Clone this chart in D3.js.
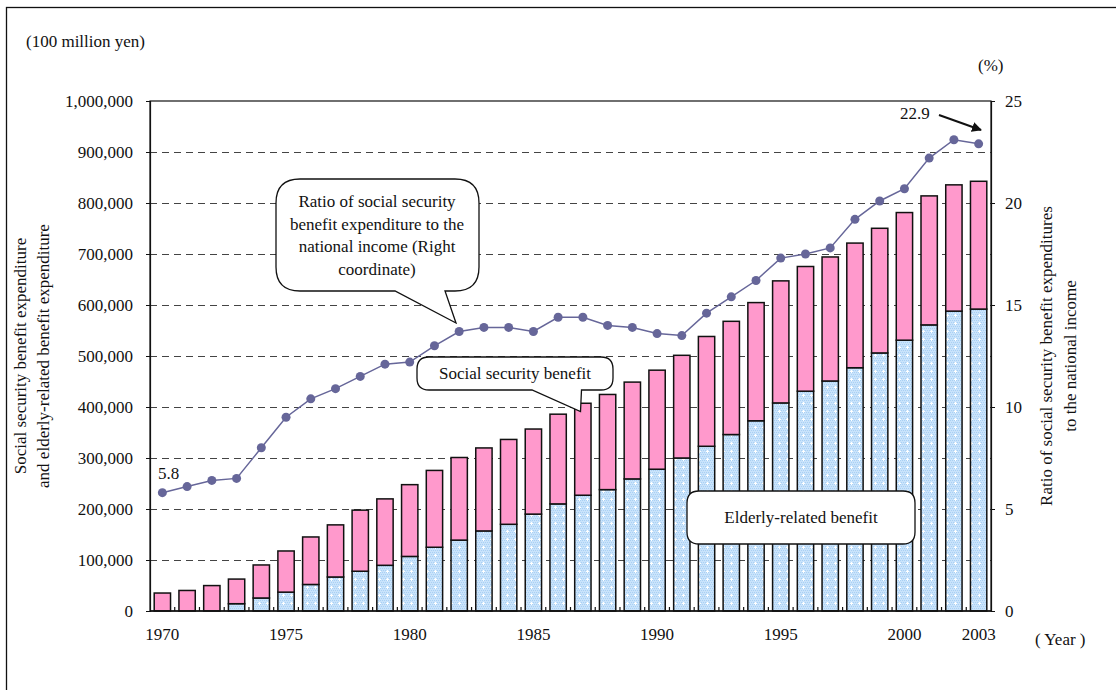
<!DOCTYPE html>
<html><head><meta charset="utf-8">
<script src="https://cdn.jsdelivr.net/npm/d3@7"></script>
<style>
html,body{margin:0;padding:0;background:#fff;}
svg text{font-family:"Liberation Serif","Times New Roman",serif;font-size:17px;fill:#111;}
</style></head>
<body>
<svg id="chart" width="1116" height="690"></svg>
<script>
// ---- data ----
const years = [1970,1971,1972,1973,1974,1975,1976,1977,1978,1979,1980,1981,1982,1983,1984,1985,1986,1987,1988,1989,1990,1991,1992,1993,1994,1995,1996,1997,1998,1999,2000,2001,2002,2003];
const totalBenefit = [35239,40258,49845,62587,90270,117693,145165,168868,197763,219832,247736,275638,300973,319733,336396,356798,385918,407337,424582,448822,472203,501346,538280,568000,604727,647314,675475,694187,721411,750417,781272,813928,835584,842582];
const elderlyBenefit = [0,0,0,14300,25500,37000,52000,66700,78000,89600,107000,125000,139000,157000,170000,190000,210000,227000,238000,259000,278000,300000,323000,346000,373000,408000,431000,451000,477000,506000,531000,561000,588000,592000];
const ratioNI = [5.8,6.1,6.4,6.5,8.0,9.5,10.4,10.9,11.5,12.1,12.2,13.0,13.7,13.9,13.9,13.7,14.4,14.4,14.0,13.9,13.6,13.5,14.6,15.4,16.2,17.3,17.5,17.8,19.2,20.1,20.7,22.2,23.1,22.9];
const leftTicks = [0,100000,200000,300000,400000,500000,600000,700000,800000,900000,1000000];
const rightTicks = [0,5,10,15,20,25];
const xLabelYears = [1970,1975,1980,1985,1990,1995,2000,2003];

const svg = d3.select("#chart");
const M = {left:150, top:101, right:991, bottom:611};

// outer frame
svg.append("rect").attr("x",6.5).attr("y",7.5).attr("width",1300).attr("height",900)
  .attr("fill","none").attr("stroke","#111").attr("stroke-width",1.3);

// pattern for elderly
const defs = svg.append("defs");
const pat = defs.append("pattern").attr("id","dots").attr("patternUnits","userSpaceOnUse")
  .attr("width",8).attr("height",8);
pat.append("rect").attr("width",8).attr("height",8).attr("fill","#c9e3fb");
for (let i=0;i<8;i+=2) for (let j=0;j<8;j+=2) {
  pat.append("rect").attr("x",i+((j/2)%2)).attr("y",j).attr("width",1).attr("height",1).attr("fill","#a9d0f4");
}
pat.append("rect").attr("x",3).attr("y",2).attr("width",1).attr("height",3).attr("fill","#fff");
pat.append("rect").attr("x",2).attr("y",3).attr("width",3).attr("height",1).attr("fill","#fff");
defs.append("marker").attr("id","arrow").attr("viewBox","0 0 10 10").attr("refX",9).attr("refY",5)
  .attr("markerWidth",5).attr("markerHeight",5).attr("orient","auto")
  .append("path").attr("d","M0,0 L10,5 L0,10 z").attr("fill","#111");

// scales
const x = d3.scaleBand().domain(years).range([M.left, M.right]).paddingInner(0.34).paddingOuter(0.17);
const yL = d3.scaleLinear().domain([0,1000000]).range([M.bottom, M.top]);
const yR = d3.scaleLinear().domain([0,25]).range([M.bottom, M.top]);

// gridlines
svg.append("g").selectAll("line").data(leftTicks.filter(d=>d>0 && d<1000000)).join("line")
  .attr("x1",M.left).attr("x2",M.right).attr("y1",d=>Math.round(yL(d))+0.5).attr("y2",d=>Math.round(yL(d))+0.5)
  .attr("stroke","#444").attr("stroke-width",1).attr("stroke-dasharray","7,5");

// bars
const table = years.map((y,i)=>({year:y, elderly:elderlyBenefit[i], other:totalBenefit[i]-elderlyBenefit[i]}));
const stack = d3.stack().keys(["elderly","other"])(table);
const fills = {elderly:"url(#dots)", other:"#ff99cc"};
svg.append("g").selectAll("g").data(stack).join("g")
  .attr("fill",d=>fills[d.key])
  .selectAll("rect").data(d=>d.filter(s=>s[1]-s[0]>0)).join("rect")
  .attr("x",d=>x(d.data.year)).attr("width",x.bandwidth())
  .attr("y",d=>yL(d[1])).attr("height",d=>yL(d[0])-yL(d[1]))
  .attr("stroke","#111").attr("stroke-width",1.5);

// plot frame
svg.append("rect").attr("x",M.left).attr("y",M.top).attr("width",M.right-M.left).attr("height",M.bottom-M.top)
  .attr("fill","none").attr("stroke","#111").attr("stroke-width",1.2);

// axes
const axL = d3.axisLeft(yL).tickValues(leftTicks).tickFormat(d3.format(",")).tickSize(4).tickPadding(13);
const gL = svg.append("g").attr("transform",`translate(${M.left},0)`).call(axL);
const axR = d3.axisRight(yR).tickValues(rightTicks).tickSize(4).tickPadding(10);
const gR = svg.append("g").attr("transform",`translate(${M.right},0)`).call(axR);
[gL,gR].forEach(g=>{
  g.attr("font-family",null).attr("font-size",null);
  g.select(".domain").attr("stroke","#111").attr("stroke-width",1.2);
  g.selectAll(".tick line").attr("stroke","#111");
  g.selectAll(".tick text").attr("fill","#111");
});

// x-axis: inward ticks at band boundaries
const step = x.step();
const bounds = years.slice(1).map(y=>x(y) - (step - x.bandwidth())/2);
svg.append("g").selectAll("line").data(bounds).join("line")
  .attr("x1",d=>d).attr("x2",d=>d).attr("y1",M.bottom).attr("y2",M.bottom-4)
  .attr("stroke","#111").attr("stroke-width",1.2);
svg.append("line").attr("x1",M.left).attr("x2",M.right).attr("y1",M.bottom).attr("y2",M.bottom)
  .attr("stroke","#111").attr("stroke-width",1.5);
svg.append("g").selectAll("text").data(xLabelYears).join("text")
  .attr("x",d=>x(d)+x.bandwidth()/2).attr("y",639.5).attr("text-anchor","middle").text(d=>d);

// callouts
function callout(x0,y0,x1,y1,r,bx1,bx2,tx,ty){
  const p = d3.path();
  p.moveTo(x0+r,y0);
  p.lineTo(x1-r,y0); p.quadraticCurveTo(x1,y0,x1,y0+r);
  p.lineTo(x1,y1-r); p.quadraticCurveTo(x1,y1,x1-r,y1);
  p.lineTo(bx2,y1); p.lineTo(tx,ty); p.lineTo(bx1,y1);
  p.lineTo(x0+r,y1); p.quadraticCurveTo(x0,y1,x0,y1-r);
  p.lineTo(x0,y0+r); p.quadraticCurveTo(x0,y0,x0+r,y0);
  p.closePath();
  return p.toString();
}
const co = svg.append("g").attr("fill","#fff").attr("stroke","#111").attr("stroke-width",1.3);
co.append("path").attr("d",callout(276,179,479,291,24,395,445,456,323));
co.append("path").attr("d",callout(417,357,613,390,12,532,581.5,580.5,411.5));
co.append("path").attr("d",callout(687,491,915,544,12,800,800,800,544));

// line
const line = d3.line().x((d,i)=>x(years[i])+x.bandwidth()/2).y(d=>yR(d));
svg.append("path").datum(ratioNI).attr("d",line).attr("fill","none").attr("stroke","#666699").attr("stroke-width",1.5);
svg.append("g").selectAll("circle").data(ratioNI).join("circle")
  .attr("cx",(d,i)=>x(years[i])+x.bandwidth()/2).attr("cy",d=>yR(d)).attr("r",4.5).attr("fill","#666699");

// callout texts
const t1 = ["Ratio of social security","benefit expenditure to the","national income (Right","coordinate)"];
svg.append("g").selectAll("text").data(t1).join("text")
  .attr("x",377).attr("y",(d,i)=>207+i*22.5).attr("text-anchor","middle").text(d=>d);
svg.append("text").attr("x",515).attr("y",379).attr("text-anchor","middle").text("Social security benefit");
svg.append("text").attr("x",801).attr("y",523).attr("text-anchor","middle").text("Elderly-related benefit");

// value labels
svg.append("text").attr("x",158).attr("y",479).text(ratioNI[0].toFixed(1));
svg.append("text").attr("x",900).attr("y",119).text(ratioNI[ratioNI.length-1].toFixed(1));
svg.append("line").attr("x1",939).attr("y1",115).attr("x2",981).attr("y2",130)
  .attr("stroke","#111").attr("stroke-width",2).attr("marker-end","url(#arrow)");

// axis titles / units
svg.append("text").attr("x",26).attr("y",47).text("(100 million yen)");
svg.append("text").attr("x",978).attr("y",71).text("(%)");
svg.append("text").attr("x",1035).attr("y",645).text("( Year )");
const cy = (M.top+M.bottom)/2;
svg.append("text").attr("transform",`translate(20,${cy}) rotate(-90)`).attr("dy","0.35em")
  .attr("text-anchor","middle").text("Social security benefit expenditure");
svg.append("text").attr("transform",`translate(43,${cy}) rotate(-90)`).attr("dy","0.35em")
  .attr("text-anchor","middle").text("and elderly-related benefit expenditure");
svg.append("text").attr("transform",`translate(1046,${cy}) rotate(-90)`).attr("dy","0.35em")
  .attr("text-anchor","middle").text("Ratio of social security benefit expenditures");
svg.append("text").attr("transform",`translate(1070,${cy}) rotate(-90)`).attr("dy","0.35em")
  .attr("text-anchor","middle").text("to the national income");
</script>
</body></html>
